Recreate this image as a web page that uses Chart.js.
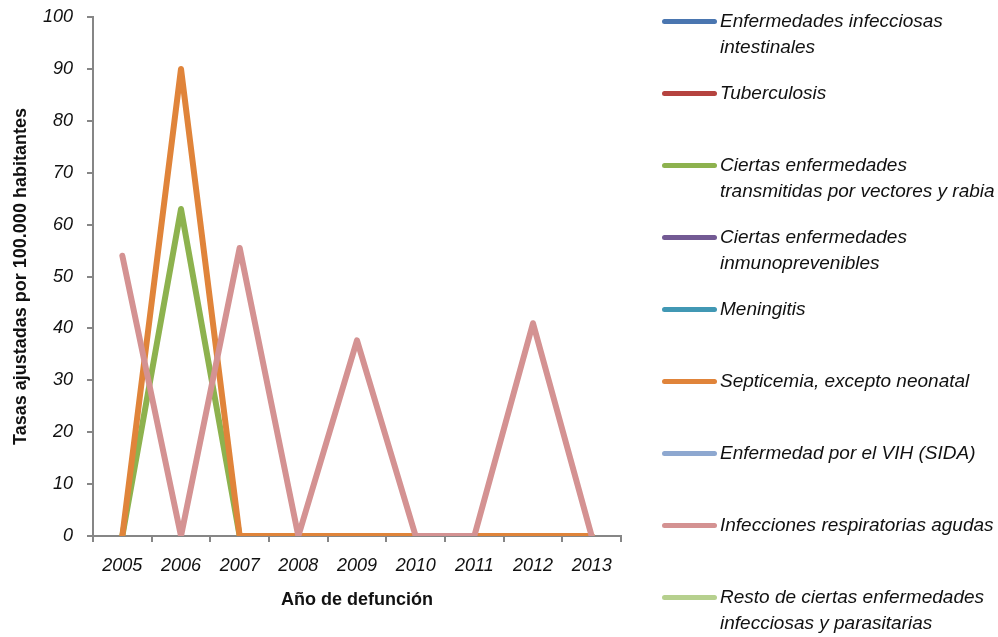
<!DOCTYPE html>
<html>
<head>
<meta charset="utf-8">
<script src="https://cdn.jsdelivr.net/npm/chart.js@4"></script>
<style>
    body { margin: 0; background: #fff; }
    #wrap { position: relative; width: 998px; height: 637px; }
    #legend { position: absolute; left: 662px; top: 8px; font-family: "Liberation Sans", Arial, sans-serif; font-style: italic; font-size: 19px; color: #111; }
    .leg-item { display: flex; align-items: flex-start; height: 72px; }
    .leg-line { width: 55px; height: 5px; border-radius: 3px; margin-top: 11px; margin-right: 3px; flex: none; }
    .leg-text { line-height: 26px; white-space: nowrap; }
</style>
</head>
<body>
<div id="wrap">
    <canvas id="chart" width="998" height="637"></canvas>
    <div id="legend"></div>
</div>
<script>
// Años
const years = ['2005', '2006', '2007', '2008', '2009', '2010', '2011', '2012', '2013'];

// Series (null = sin dato)
const intestinales  = [null, null, null, null, null, null, null, null, null];
const tuberculosis  = [null, null, null, null, null, null, null, null, null];
const vectores      = [0, 63, 0, 0, 0, 0, 0, 0, 0];
const inmunoprev    = [null, null, null, null, null, null, null, null, null];
const meningitis    = [null, null, null, null, null, null, null, null, null];
const septicemia    = [0, 90, 0, 0, 0, 0, 0, 0, 0];
const vih           = [null, null, null, null, null, null, null, null, null];
const respiratorias = [54, 0, 55.5, 0, 37.7, 0, 0, 41, 0];
const resto         = [null, null, null, null, null, null, null, null, null];

const yTicks = [0, 10, 20, 30, 40, 50, 60, 70, 80, 90, 100];

const series = [
    { name: ['Enfermedades infecciosas', 'intestinales'], data: intestinales, color: '#4a76b0' },
    { name: ['Tuberculosis'], data: tuberculosis, color: '#b5433f' },
    { name: ['Ciertas enfermedades', 'transmitidas por vectores y rabia'], data: vectores, color: '#8db24e' },
    { name: ['Ciertas enfermedades', 'inmunoprevenibles'], data: inmunoprev, color: '#735a94' },
    { name: ['Meningitis'], data: meningitis, color: '#4198b4' },
    { name: ['Septicemia, excepto neonatal'], data: septicemia, color: '#e0843a' },
    { name: ['Enfermedad por el VIH (SIDA)'], data: vih, color: '#8ea8d0' },
    { name: ['Infecciones respiratorias agudas'], data: respiratorias, color: '#d49292' },
    { name: ['Resto de ciertas enfermedades', 'infecciosas y parasitarias'], data: resto, color: '#b6d08e' }
];

const FONT = '"Liberation Sans", Arial, sans-serif';
const AXIS = '#868686';

// HTML legend
document.getElementById('legend').innerHTML = series.map(s => `
    <div class="leg-item">
        <div class="leg-line" style="background:${s.color};"></div>
        <div class="leg-text">${s.name.join('<br>')}</div>
    </div>
`).join('');

new Chart(document.getElementById('chart'), {
    type: 'line',
    data: {
        labels: years,
        // later series drawn on top, like the original
        datasets: series.map((s, i) => ({
            label: s.name.join(' '),
            data: s.data,
            order: series.length - i,
            borderColor: s.color,
            backgroundColor: s.color,
            borderWidth: 6,
            borderJoinStyle: 'round',
            borderCapStyle: 'round',
            tension: 0,
            pointRadius: 0,
            spanGaps: false
        }))
    },
    options: {
        responsive: false,
        animation: false,
        layout: { padding: { top: 17, right: 377, left: 0, bottom: 0 } },
        plugins: { legend: { display: false }, tooltip: { enabled: false } },
        scales: {
            x: {
                offset: true,
                grid: { offset: true, drawOnChartArea: false, drawTicks: true, tickLength: 6, color: AXIS, lineWidth: 2 },
                border: { color: AXIS, width: 2 },
                ticks: { color: '#111', padding: 13, maxRotation: 0, font: { family: FONT, size: 18, style: 'italic' } },
                title: { display: true, text: 'Año de defunción', color: '#111', padding: { bottom: 26 }, font: { family: FONT, size: 18, weight: 'bold' } },
                afterFit: s => { s.height = 101; s.paddingLeft = 0; s.paddingRight = 0; }
            },
            y: {
                min: 0,
                max: 100,
                afterBuildTicks: s => { s.ticks = yTicks.map(v => ({ value: v })); },
                grid: { drawOnChartArea: false, drawTicks: true, tickLength: 6, color: AXIS, lineWidth: 2 },
                border: { color: AXIS, width: 2 },
                ticks: { color: '#111', padding: 14, font: { family: FONT, size: 18, style: 'italic' } },
                title: { display: true, text: 'Tasas ajustadas por 100.000 habitantes', color: '#111', padding: { top: 10 }, font: { family: FONT, size: 18, weight: 'bold' } },
                afterFit: s => { s.width = 93; s.paddingTop = 0; s.paddingBottom = 0; }
            }
        }
    }
});
</script>
</body>
</html>
